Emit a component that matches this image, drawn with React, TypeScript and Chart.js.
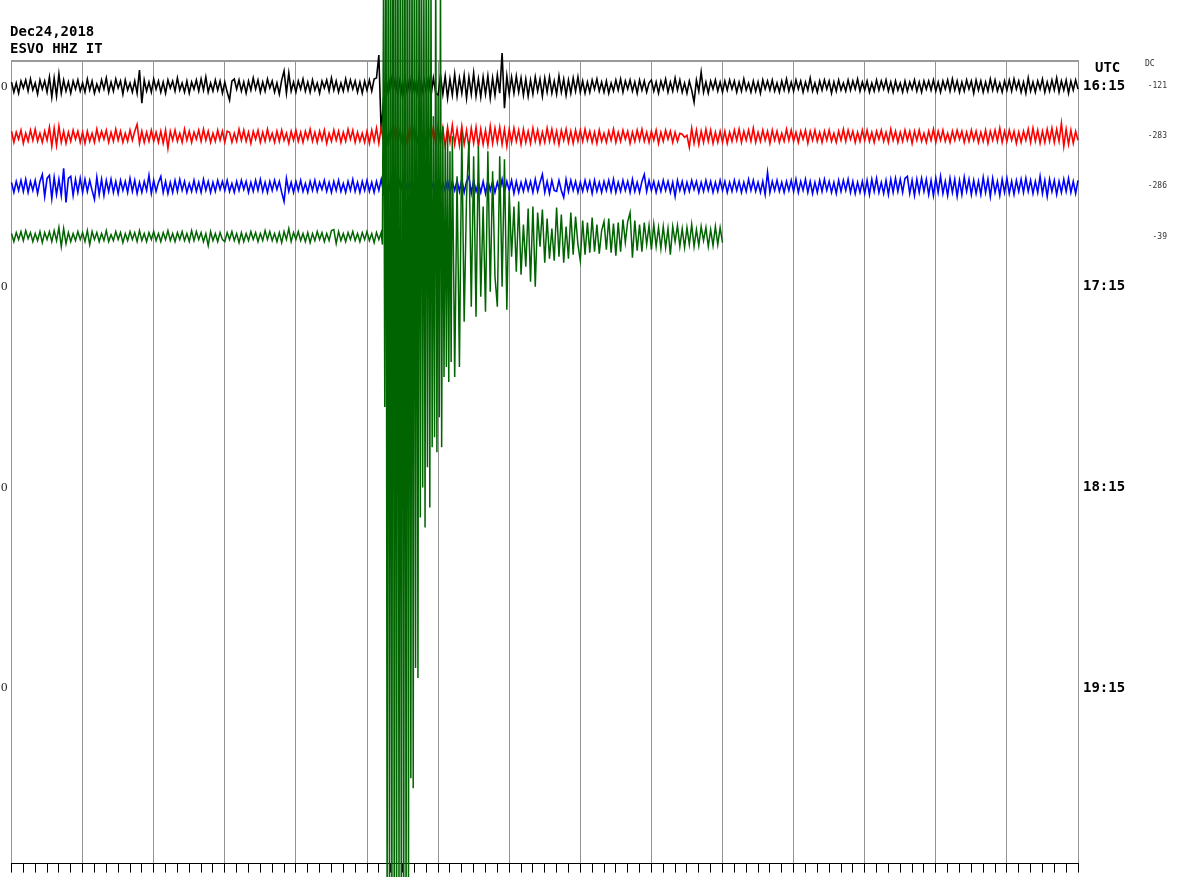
import React, { useEffect, useRef } from 'react';
import { Chart, registerables } from 'chart.js';

Chart.register(...registerables);

// ---------- header / labels ----------
const TITLE_LINES = ['Dec24,2018', 'ESVO HHZ IT'];
const UTC_LABEL = 'UTC';
const DC_LABEL = 'DC';
const HOUR_ROWS = [0, 4, 8, 12];
const HOUR_LABELS = ['16:15', '17:15', '18:15', '19:15'];
const LEFT_LABELS = ['0', '0', '0', '0'];
const DC_ROWS = [0, 1, 2, 3];
const DC_VALUES = ['-121', '-283', '-286', '-39'];

// ---------- helicorder geometry (time axis in seconds, rows of 15 min) ----------
const ROW_SECONDS = 900;
const MINUTE = 60;
const TICK_SECONDS = 10;
const ROW_COUNT = 16;
const COUNTS_PER_ROW = 50;

// ---------- trace amplitudes (counts, positive = up), one sample every 2 s ----------
// each source line = one minute (30 samples)
const NOISE_DT = 2;

// 16:15 row
const BLACK = [
  4,-6,3,-7,5,-2,6,-5,7,-4, 3,-8,6,-3,5,-6,9,-11,8,-10, 12,-7,6,-5,4,-7,5,-3,6,-5,
  3,-6,7,-4,5,-7,2,-5,6,-3, 8,-6,4,-5,7,-2,5,-8,6,-4, 3,-6,5,-7,16,-17,6,-5,4,-6,
  7,-3,5,-6,4,-7,6,-2,5,-5, 8,-4,3,-6,5,-7,4,-3,6,-5, 7,-4,9,-6,3,-5,6,-4,5,-7,
  4,-6,-14,5,7,-3,6,-5,4,-7, 5,-4,8,-3,6,-6,4,-5,7,-2, 5,-6,3,-8,6,15,-7,13,-5,4,
  -6,5,-3,7,-5,4,-6,6,-4,3, -7,5,-2,6,-5,8,-4,5,-6,3, -5,7,-4,6,-3,5,-6,4,-7,5,
  -4,6,-5,7,8,31,-47,-12,9,-8, 10,-6,8,-9,7,-11,9,-7,8,-10, 6,-8,11,-9,7,-6,9,-10,8,-7,
  -9,11,-8,10,-12,7,-9,12,-10,8, -7,11,-12,9,-8,13,-10,7,-11,9, -8,10,-12,8,-9,11,-7,33,-22,10,
  -8,9,-7,10,-6,8,-9,7,-10,6, -8,9,-5,7,-10,8,-6,9,-7,5, -8,10,-6,7,-9,6,-7,8,-5,9,
  -6,5,-7,4,-6,6,-3,7,-5,4, -6,5,-7,3,-5,6,-4,7,-6,5, -3,6,-5,4,-7,6,-4,5,-6,3,
  6,-5,4,-7,5,-3,7,-6,4,-5, 8,-4,6,-6,3,-7,5,-4,-16,6, -5,14,-6,4,-7,5,-3,6,-5,4,
  -6,5,-4,6,-3,5,-6,4,-5,7, -4,3,-6,5,-5,4,-7,6,-3,5, -4,6,-5,3,-6,5,-4,7,-5,4,
  -5,6,-3,5,-6,4,-4,8,-5,3, -6,5,-4,6,-3,5,-7,4,-5,6, -4,3,-5,6,-4,5,-3,7,-5,4,
  -4,5,-6,3,-5,6,-4,5,-3,6, -5,4,-6,5,-4,3,-6,5,-5,4, -3,6,-5,4,-6,5,-3,5,-4,6,
  -5,4,-6,5,-3,6,-5,7,-4,5, -6,4,-5,6,-3,5,-7,6,-4,5, -6,4,-5,7,-4,6,-5,3,-6,5,
  -4,6,-5,7,-3,5,-6,4,-7,8, -5,4,-6,5,-3,7,-6,4,-5,6, -4,8,-6,5,-4,6,-7,5,-4,6,
  -3,
];

// 16:30 row
const RED = [
  5,-6,4,-3,6,-7,3,-5,6,-4, 7,-5,3,-6,5,-4,9,-10,8,-9, 10,-6,5,-7,4,-5,6,-3,5,-6,
  4,-7,5,-5,3,-6,7,-4,5,-3, 6,-6,4,-5,7,-4,5,-6,3,-5, 6,-4,5,12,-7,5,-6,4,-5,6,
  -5,4,-6,5,-7,6,-12,5,-4,6, -5,3,-6,7,-4,5,-6,4,-3,6, -5,7,-4,5,-6,3,-5,6,-4,5,
  -6,5,4,-6,3,-5,7,-4,6,-5, 4,-7,5,-3,6,-6,4,-5,7,-4, 3,-6,5,-5,6,-4,3,-7,5,-4,
  6,-5,4,-6,5,-3,7,-5,4,-6, 5,-4,6,-7,3,-5,6,-4,5,-6, 4,-5,7,-3,6,-6,4,-5,3,-6,
  5,-7,6,-5,8,-7,9,-6,7,-9, 8,-6,10,-8,7,-9,6,-8,9,-7, 10,-8,6,-9,7,-10,8,-6,9,-8,
  10,-7,8,-10,9,-6,11,-8,7,-9, 10,-8,6,-11,8,-7,9,-10,7,-8, 6,-9,10,-7,8,-6,9,-8,7,-10,
  7,-6,8,-5,6,-8,7,-6,5,-7, 8,-5,6,-7,4,-6,8,-5,7,-6, 5,-8,6,-4,7,-6,5,-7,6,-5,
  6,-5,7,-4,5,-6,4,-7,6,-5, 3,-6,5,-4,7,-6,4,-5,6,-3, 5,-7,4,-5,6,-4,7,-5,4,-6,
  5,-4,6,-7,4,-5,6,-3,5,-6, 4,-5,3,2,-1,1,-11,8,-7,6, -8,5,-6,7,-5,6,-7,4,-6,5,
  -6,5,-7,4,-5,6,-4,7,-6,5, -4,6,-5,8,-6,4,-5,6,-4,5, -7,6,-4,5,-6,3,-5,7,-4,6,
  -5,4,-6,5,-3,6,-7,5,-4,6, -5,4,-6,5,-4,6,-5,3,-6,5, -4,7,-5,6,-3,5,-6,4,-5,6,
  -4,6,-5,4,-6,5,-3,6,-5,4, -6,7,-4,5,-6,4,-5,6,-4,5, -7,5,-4,6,-5,3,-6,5,-4,7,
  -6,5,-4,6,-5,3,-6,5,-4,6, -3,5,-6,4,-5,6,-4,5,-6,4, -5,6,-7,5,-4,6,-5,8,-6,5,
  -5,6,-4,5,-7,4,-6,5,-4,7, -6,8,-5,6,-7,5,-6,7,-5,8, -6,7,-5,13,-10,7,-8,6,-7,5,
  -4,
];

// 16:45 row
const BLUE = [
  4,-6,5,-4,6,-5,7,-6,5,-4, 6,-7,5,12,-10,8,11,-12,9,-8, 7,-9,18,-16,8,10,-9,7,-6,8,
  -6,7,-5,6,-4,-13,9,-8,7,-9, 6,-5,7,-6,5,-7,6,-4,5,-6, 8,-5,6,-7,4,-6,5,-4,11,-7,
  6,-5,4,10,-6,5,-7,4,-6,6, -5,7,-4,5,-6,3,-5,6,-5,4, -6,7,-4,5,-6,4,-5,6,-3,5,
  -4,6,-5,3,-6,5,-4,6,-3,5, -6,4,-5,6,-4,7,-5,4,-6,5, -4,6,-3,5,-6,-15,8,-5,4,-6,
  5,-4,6,-5,3,-6,5,-4,6,-5, 4,-3,6,-5,4,-6,5,-4,6,-5, 3,-6,5,-4,7,-5,4,-6,5,-4,
  6,-5,4,-6,5,-4,7,-6,5,-7, 6,-5,4,-6,7,-5,6,-4,5,-6, 4,-5,6,-4,5,-6,7,-5,4,-6,
  5,-6,4,-5,6,-7,5,-4,6,-5, 7,-6,5,10,-7,6,-5,4,-6,5, -7,6,-4,5,-6,4,-5,7,-6,5,
  -4,6,-7,5,-6,4,-5,6,-4,5, -6,7,-5,4,12,-6,5,-7,6,-4, -5,6,-4,-11,7,-5,6,-4,5,-6,
  4,-5,6,-4,5,-7,6,-5,4,-6, 5,-4,6,-5,7,-6,4,-5,6,-4, 5,-6,7,-5,4,-6,5,12,-5,6,
  -4,5,-6,4,-5,6,-4,5,-6,4, -10,6,-4,5,-6,4,-5,6,-3,5, -6,4,-5,6,-4,5,-6,4,-5,6,
  -4,5,-6,4,-5,6,-4,5,-6,4, -5,7,-4,6,-5,4,-6,5,-8,14, -6,5,-4,6,-5,4,-6,5,-4,6,
  -5,7,-6,5,-4,7,-6,5,-7,4, -6,6,-5,7,-4,5,-6,4,-7,6, -5,6,-4,7,-6,5,-7,4,-6,5,
  -7,6,-8,7,-5,8,-6,4,-7,6, -8,7,-6,8,-5,7,-6,8,10,-7, 6,-9,7,-6,8,-5,7,-8,6,-9,
  8,-6,10,-7,5,-9,8,-6,7,-10, 6,-8,9,-5,7,-8,6,-7,5,-8, 9,-6,7,-10,8,-6,5,-9,7,-6,
  8,-7,5,-8,6,-5,7,-6,8,-5, 6,-7,5,-6,10,-7,6,-10,7,-5, 6,-8,5,-6,7,-5,8,-6,5,-7,
  6,
];

// 17:00 row: background noise before the event (every 2 s, from 0 s)
const GREEN_PRE_T0 = 0;
const GREEN_PRE_DT = 2;
const GREEN_PRE = [
  3,-5,4,-3,5,-4,6,-2,4,-5, 3,-4,5,-6,4,-3,5,-5,6,-4, 9,-10,8,-7,4,-5,3,-4,5,-3,
  4,-5,6,-8,5,-3,4,-5,3,-4, 6,-5,2,-4,5,-3,4,-6,3,-4, 5,-3,4,-5,6,-4,3,-5,4,-3,
  5,-4,3,-5,4,-3,6,-4,3,-5, 4,-3,5,-4,3,-5,6,-4,5,-3, 4,-5,3,-9,5,-4,3,-5,4,-3,
  -5,4,-3,5,-4,3,-6,4,-5,3, -4,5,-3,4,-5,3,-4,6,-3,5, -4,3,-5,4,-6,5,-3,8,-5,4,
  -3,5,-4,3,-5,4,-6,3,-4,5, -3,4,-5,3,-4,6,7,-7,5,-4, 3,-5,4,-3,5,-4,3,-5,4,-3,
  5,-4,3,-6,4,-3,
];

// 17:00 row: main shaking (every 1 s, from 312 s)
const GREEN_MAIN_T0 = 312;
const GREEN_MAIN_DT = 1;
const GREEN_MAIN = [
  4,-8,260,-170,400,-700,500,-720,380,-690,
  600,-750,450,-700,520,-680,300,-740,560,-700,
  420,-710,480,-660,390,-540,350,-550,420,-430,
  300,-440,380,-280,330,-250,260,-290,310,-230,
  280,-270,250,-210,120,-200,270,-215,140,-180,
  260,-210,110,-140,95,-130,105,-145,85,-125,
];

// 17:00 row: coda (every 2 s, from 372 s until the data ends)
const GREEN_CODA_T0 = 372;
const GREEN_CODA_DT = 2;
const GREEN_CODA = [
  100,-140,60,-130,105,-85,40,95,-70,80,
  -80,90,-60,30,-75,85,-55,65,-40,-70,
  80,-50,77,-73,45,-20,30,-35,35,-38,
  12,-30,28,-45,30,-50,24,-10,27,-26,
  18,-22,8,-24,29,-20,22,-26,10,-22,
  24,-18,20,-8,-24,16,-18,14,-16,19,
  -15,12,-17,6,15,-13,18,-16,13,-19,
  14,-15,17,-6,15,24,-21,16,-14,12,
  -15,14,-8,11,-13,12,-10,9,-12,10,
  -11,8,-18,10,-5,11,-10,8,-11,9,
  -8,12,-10,7,-9,10,-4,9,-10,7,
  -9,10,-8,9,-6,
];

const TRACE_COLORS = ['#000000', '#ff0000', '#0000ff', '#006400'];

type Pt = { x: number; y: number };

function toPoints(values: number[], t0: number, dt: number, row: number): Pt[] {
  return values.map((v, i) => ({ x: t0 + i * dt, y: row - v / COUNTS_PER_ROW }));
}

const headerPlugin = {
  id: 'heliHeaders',
  afterDraw(chart: any) {
    const { ctx, chartArea, scales } = chart;
    ctx.save();
    ctx.fillStyle = '#000';
    ctx.textBaseline = 'middle';
    ctx.textAlign = 'left';
    ctx.font = 'bold 14px "DejaVu Sans Mono"';
    ctx.fillText(UTC_LABEL, scales.yr.left + 17, chartArea.top + 7);
    ctx.fillStyle = '#333';
    ctx.font = '8px "DejaVu Sans Mono"';
    ctx.fillText(DC_LABEL, scales.ydc.left + 2, chartArea.top + 3);
    ctx.restore();
  },
};

export default function App() {
  const canvasRef = useRef<HTMLCanvasElement | null>(null);

  useEffect(() => {
    const canvas = canvasRef.current;
    if (!canvas) return;

    const green = [
      ...toPoints(GREEN_PRE, GREEN_PRE_T0, GREEN_PRE_DT, 3),
      ...toPoints(GREEN_MAIN, GREEN_MAIN_T0, GREEN_MAIN_DT, 3),
      ...toPoints(GREEN_CODA, GREEN_CODA_T0, GREEN_CODA_DT, 3),
    ];

    const lineDefaults = {
      borderWidth: 1.6,
      pointRadius: 0,
      pointHoverRadius: 0,
      tension: 0,
      fill: false,
      clip: false as any,
    };

    const yRange = { min: -0.5, max: ROW_COUNT - 0.5, reverse: true };

    const chart = new Chart(canvas, {
      type: 'line',
      data: {
        datasets: [
          { ...lineDefaults, label: '16:15', data: toPoints(BLACK, 0, NOISE_DT, 0), borderColor: TRACE_COLORS[0], order: 3 },
          { ...lineDefaults, label: '16:30', data: toPoints(RED, 0, NOISE_DT, 1), borderColor: TRACE_COLORS[1], order: 2 },
          { ...lineDefaults, label: '16:45', data: toPoints(BLUE, 0, NOISE_DT, 2), borderColor: TRACE_COLORS[2], order: 1 },
          { ...lineDefaults, borderWidth: 1.5, label: '17:00', data: green, borderColor: TRACE_COLORS[3], order: 0 },
        ],
      },
      options: {
        animation: false,
        responsive: false,
        devicePixelRatio: 1,
        parsing: false,
        normalized: true,
        events: [],
        layout: { padding: { left: 10, right: 33, top: 0, bottom: 3 }, autoPadding: false },
        plugins: {
          legend: { display: false },
          tooltip: { enabled: false },
          title: {
            display: true,
            text: TITLE_LINES,
            align: 'start',
            color: '#000',
            font: { family: '"DejaVu Sans Mono", monospace', weight: 'bold', size: 14, lineHeight: '17.5px' },
            padding: { top: 23.5, bottom: 2.5 },
          },
        },
        scales: {
          x: {
            type: 'linear',
            position: 'bottom',
            min: 0,
            max: ROW_SECONDS,
            ticks: { display: false, stepSize: TICK_SECONDS },
            grid: {
              display: true,
              drawOnChartArea: true,
              drawTicks: true,
              tickLength: 9,
              lineWidth: 1,
              color: (c: any) => (c.tick && c.tick.value % MINUTE === 0 ? '#939393' : 'rgba(0,0,0,0)'),
              tickColor: '#000',
            },
            border: { display: true, color: '#000', width: 1 },
          },
          xt: {
            type: 'linear',
            position: 'top',
            min: 0,
            max: ROW_SECONDS,
            ticks: { display: false },
            grid: { display: false, drawTicks: false },
            border: { display: true, color: '#9a9a9a', width: 2 },
          },
          y: {
            type: 'linear',
            position: 'left',
            ...yRange,
            afterBuildTicks: (s: any) => { s.ticks = HOUR_ROWS.map((v) => ({ value: v })); },
            afterFit: (s: any) => { s.width = 1.5; },
            ticks: {
              display: true,
              mirror: true,
              padding: -10.5,
              color: '#222',
              font: { family: '"Liberation Serif", serif', size: 13 },
              callback: (_v: any, i: number) => LEFT_LABELS[i],
            },
            grid: { display: false, drawTicks: false },
            border: { display: false },
          },
          yr: {
            type: 'linear',
            position: 'right',
            ...yRange,
            afterBuildTicks: (s: any) => { s.ticks = HOUR_ROWS.map((v) => ({ value: v })); },
            afterFit: (s: any) => { s.width = 65; },
            ticks: {
              display: true,
              padding: 5,
              color: '#000',
              font: { family: '"DejaVu Sans Mono", monospace', weight: 'bold', size: 14 },
              callback: (_v: any, i: number) => HOUR_LABELS[i],
            },
            grid: { display: false, drawTicks: false },
            border: { display: false },
          },
          ydc: {
            type: 'linear',
            position: 'right',
            ...yRange,
            afterBuildTicks: (s: any) => { s.ticks = DC_ROWS.map((v) => ({ value: v })); },
            afterFit: (s: any) => { s.width = 24; },
            ticks: {
              display: true,
              padding: 2,
              crossAlign: 'far',
              color: '#333',
              font: { family: '"DejaVu Sans Mono", monospace', size: 8 },
              callback: (_v: any, i: number) => DC_VALUES[i],
            },
            grid: { display: false, drawTicks: false },
            border: { display: false },
          },
        },
      } as any,
      plugins: [headerPlugin],
    });

    return () => chart.destroy();
  }, []);

  return (
    <div style={{ position: 'fixed', left: 0, top: 0, width: 1200, height: 877, background: '#fff' }}>
      <canvas ref={canvasRef} width={1200} height={877} style={{ display: 'block', width: 1200, height: 877 }} />
    </div>
  );
}
